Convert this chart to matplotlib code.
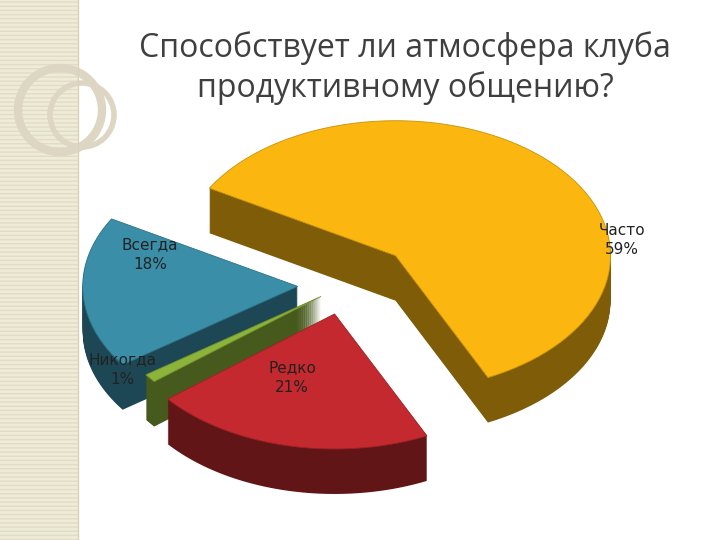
import numpy as np
import matplotlib.pyplot as plt
from matplotlib.patches import Polygon, Rectangle
import matplotlib.colors as mcolors

labels = ['Часто', 'Редко', 'Никогда', 'Всегда']
values = [59, 21, 1, 18]
top_colors = ['#FBB70F', '#C3292E', '#8DB43A', '#3A8EA8']
label_pos = [(622, 240), (292, 378), (122, 370), (150, 255)]

START = 150.0
CX, CY, RX, RY, DEPTH = 345, 285, 215, 135, 45
EXPLODE = [0.32, 0.22, 0.14, 0.22]

fig = plt.figure(figsize=(7.2, 5.4), dpi=100)
ax = fig.add_axes([0, 0, 1, 1])
ax.set_xlim(0, 720)
ax.set_ylim(540, 0)
ax.set_axis_off()

# slide decoration on the left
ax.add_patch(Rectangle((0, 0), 78, 540, facecolor='#EFEBD9', hatch='----',
                       edgecolor='#E2DCC4', lw=0))
ax.plot([78, 78], [0, 540], color='#D8D2BA', lw=1)
ax.add_patch(plt.Circle((60, 110), 42, fill=False, ec='#DCD6C3', lw=6))
ax.add_patch(plt.Circle((82, 115), 32, fill=False, ec='#DCD6C3', lw=4))

total = sum(values)
wedges = []
a0 = START
for v, e in zip(values, EXPLODE):
    span = 360.0 * v / total
    a1 = a0 - span
    mid = np.radians((a0 + a1) / 2)
    ox, oy = e * np.cos(mid), e * np.sin(mid)
    t = np.radians(np.linspace(a0, a1, 80))
    xs = np.concatenate([[ox], ox + np.cos(t)])
    ys = np.concatenate([[oy], oy + np.sin(t)])
    wedges.append((CX + RX * xs, CY - RY * ys))
    a0 = a1

# extruded sides: stacked darker layers
for k in range(DEPTH, 0, -1):
    for (px, py), c in zip(wedges, top_colors):
        side = np.array(mcolors.to_rgb(c)) * 0.5
        ax.add_patch(Polygon(np.column_stack([px, py + k]), closed=True,
                             facecolor=side, edgecolor='none'))
for (px, py), c in zip(wedges, top_colors):
    ax.add_patch(Polygon(np.column_stack([px, py]), closed=True,
                         facecolor=c, edgecolor=np.array(mcolors.to_rgb(c)) * 0.8, lw=0.6))

for lab, v, (x, y) in zip(labels, values, label_pos):
    ax.text(x, y, f'{lab}\n{v}%', ha='center', va='center', fontsize=11,
            color='#222222', linespacing=1.4)

ax.text(405, 68, 'Способствует ли атмосфера клуба\nпродуктивному общению?',
        ha='center', va='center', fontsize=23, color='#3F3F3F',
        family='Open Sans', linespacing=1.25)

fig.savefig('out.png', dpi=100)
